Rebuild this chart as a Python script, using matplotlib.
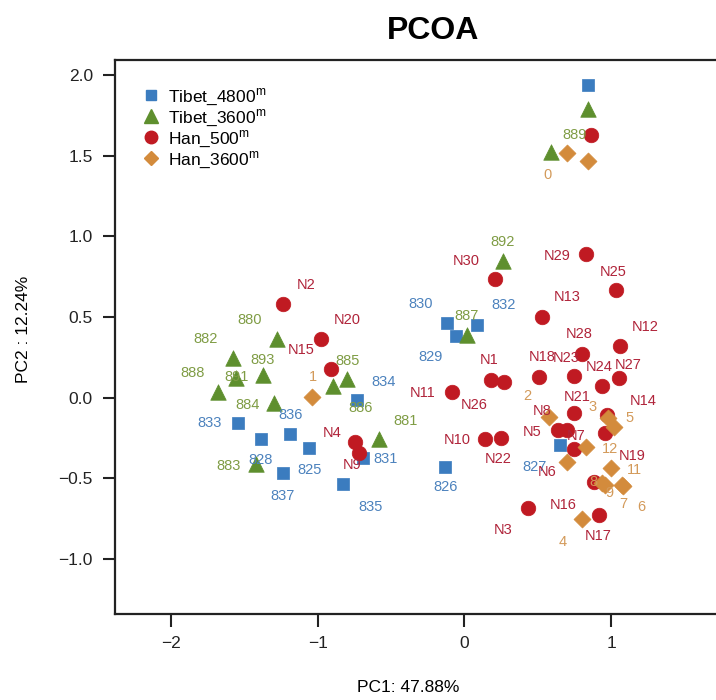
import matplotlib
matplotlib.use("Agg")
import matplotlib.pyplot as plt
from matplotlib.lines import Line2D

plt.rcParams['font.family'] = ['Liberation Sans', 'DejaVu Sans']
plt.rcParams['mathtext.fontset'] = 'custom'
plt.rcParams['mathtext.rm'] = 'Liberation Sans'

# ---------------- data ----------------
t4800_x = [0.845, -1.547, -1.39, -1.186, -1.057, -1.234, -0.825, -0.69, -0.73, -0.116, 0.082, -0.055, -0.13, 0.654]
t4800_y = [1.94, -0.157, -0.256, -0.226, -0.31, -0.467, -0.535, -0.373, -0.015, 0.46, 0.45, 0.38, -0.43, -0.293]
t4800_lab = ["", "833", "828", "836", "825", "837", "835", "831", "834", "830", "832", "829", "826", "827"]
t4800_lx = [0.0, -1.74, -1.39, -1.186, -1.057, -1.24, -0.64, -0.54, -0.55, -0.30, 0.266, -0.23, -0.13, 0.48]
t4800_ly = [0.0, -0.16, -0.386, -0.107, -0.45, -0.61, -0.68, -0.38, 0.10, 0.58, 0.574, 0.25, -0.555, -0.43]

t3600_x = [-1.28, -1.58, -1.37, -1.56, -1.677, -1.30, -0.80, -0.893, -1.418, -0.58, 0.26, 0.02, 0.845, 0.593]
t3600_y = [0.363, 0.246, 0.14, 0.12, 0.035, -0.033, 0.115, 0.073, -0.41, -0.255, 0.847, 0.39, 1.79, 1.52]
t3600_lab = ["880", "882", "893", "891", "888", "884", "885", "886", "883", "881", "892", "887", "889", ""]
t3600_lx = [-1.466, -1.765, -1.377, -1.554, -1.854, -1.48, -0.80, -0.71, -1.61, -0.40, 0.26, 0.014, 0.75, 0.0]
t3600_ly = [0.48, 0.363, 0.234, 0.127, 0.153, -0.045, 0.23, -0.064, -0.425, -0.145, 0.965, 0.505, 1.63, 0.0]

h500_x = [0.184, -1.234, 0.436, -0.743, 0.64, 0.86, 0.745, 0.70, -0.716, 0.143, -0.088, 1.057, 0.53, 0.97, -0.913,
          0.88, 0.92, 0.506, 0.96, -0.98, 0.745, 0.25, 0.745, 0.94, 1.036, 0.27, 1.05, 0.80, 0.83, 0.205]
h500_y = [0.11, 0.58, -0.684, -0.275, -0.20, 1.63, -0.32, -0.20, -0.343, -0.255, 0.035, 0.32, 0.50, -0.107, 0.178,
          -0.52, -0.73, 0.128, -0.22, 0.363, -0.095, -0.25, 0.134, 0.072, 0.667, 0.097, 0.122, 0.27, 0.89, 0.735]
h500_lab = ["N%d" % i for i in range(1, 31)]
h500_lx = [0.165, -1.077, 0.266, -0.90, 0.46, 0.565, 0.76, 0.53, -0.763, -0.048, -0.286, 1.234, 0.70, 1.22, -1.11,
           0.675, 0.914, 0.53, 1.145, -0.80, 0.77, 0.23, 0.69, 0.92, 1.016, 0.068, 1.118, 0.78, 0.634, 0.014]
h500_ly = [0.233, 0.70, -0.82, -0.22, -0.21, -0.46, -0.24, -0.08, -0.417, -0.26, 0.03, 0.438, 0.624, -0.02, 0.295,
           -0.665, -0.86, 0.25, -0.36, 0.48, 0.005, -0.38, 0.245, 0.19, 0.778, -0.045, 0.20, 0.394, 0.877, 0.85]

h3600_x = [0.70, 0.845, -1.036, 0.575, 0.98, 1.016, 0.83, 0.70, 1.0, 0.94, 0.96, 1.077, 1.08, 0.80]
h3600_y = [1.515, 1.47, 0.005, -0.12, -0.126, -0.18, -0.305, -0.40, -0.437, -0.53, -0.54, -0.54, -0.55, -0.75]
h3600_lab = ["0", "", "1", "2", "3", "5", "12", "", "11", "8", "9", "7", "6", "4"]
h3600_lx = [0.565, 0.0, -1.036, 0.43, 0.87, 1.125, 0.995, 0.0, 1.16, 0.88, 0.99, 1.084, 1.207, 0.668]
h3600_ly = [1.38, 0.0, 0.13, 0.01, -0.06, -0.126, -0.32, 0.0, -0.45, -0.52, -0.59, -0.66, -0.68, -0.894]

group_names = ["Tibet_4800", "Tibet_3600", "Han_500", "Han_3600"]
x_ticks = [-2, -1, 0, 1]
y_ticks = [-1.0, -0.5, 0.0, 0.5, 1.0, 1.5, 2.0]

# ---------------- styles ----------------
marker_cols = ["#3b7cbf", "#5e8f2e", "#c01a22", "#d38b3c"]
label_cols = ["#4c82bd", "#7f9c44", "#b0243a", "#d39a5a"]
markers = ["s", "^", "o", "D"]
sizes = [70, 125, 110, 75]

fig = plt.figure(figsize=(7.16, 7.0), dpi=100)
ax = fig.add_axes([115/716, 1-614/700, 636/716, 554/700])

groups = [
    (t4800_x, t4800_y, t4800_lab, t4800_lx, t4800_ly),
    (t3600_x, t3600_y, t3600_lab, t3600_lx, t3600_ly),
    (h500_x, h500_y, h500_lab, h500_lx, h500_ly),
    (h3600_x, h3600_y, h3600_lab, h3600_lx, h3600_ly),
]

for i, (gx, gy, glab, glx, gly) in enumerate(groups):
    ax.scatter(gx, gy, marker=markers[i], s=sizes[i], c=marker_cols[i],
               edgecolors=marker_cols[i], linewidths=0.5, zorder=3)
for i, (gx, gy, glab, glx, gly) in enumerate(groups):
    for lab, lx, ly in zip(glab, glx, gly):
        if lab:
            ax.text(lx, ly, lab, color=label_cols[i], fontsize=10.5,
                    ha="center", va="center", zorder=4)

ax.set_xlim(-2.382, 1.953)
ax.set_ylim(-1.341, 2.093)
ax.set_xticks(x_ticks)
ax.set_yticks(y_ticks)
ax.set_xticklabels([str(v).replace("-", "\u2212") for v in x_ticks])
ax.set_yticklabels([("%.1f" % v).replace("-", "\u2212") for v in y_ticks])
ax.tick_params(direction="out", length=9, width=1.5, pad=7, labelsize=12.5, colors="#222222")
for sp in ax.spines.values():
    sp.set_linewidth(1.6)
    sp.set_color("#222222")

ax.set_xlabel("PC1: 47.88%", fontsize=12.5)
ax.xaxis.set_label_coords((408 - 115) / 636, -(680 - 614) / 554)
ax.set_ylabel("PC2 : 12.24%", fontsize=12.5)
ax.yaxis.set_label_coords(-(115 - 31) / 636, (614 - 329) / 554)
ax.set_title("PCOA", fontsize=23, fontweight="bold", pad=15)

handles = [Line2D([], [], linestyle="none", marker=markers[i], color=marker_cols[i],
                  markersize=[7, 9.5, 9, 7][i]) for i in range(4)]
leg = ax.legend(handles, [n + r"$^{\mathrm{m}}$" for n in group_names],
                loc="upper left", bbox_to_anchor=(0.034, 0.965), frameon=False,
                fontsize=12.5, handlelength=0.8, handletextpad=0.6, labelspacing=0.0,
                borderaxespad=0.0)

fig.savefig("out.png", dpi=100)
